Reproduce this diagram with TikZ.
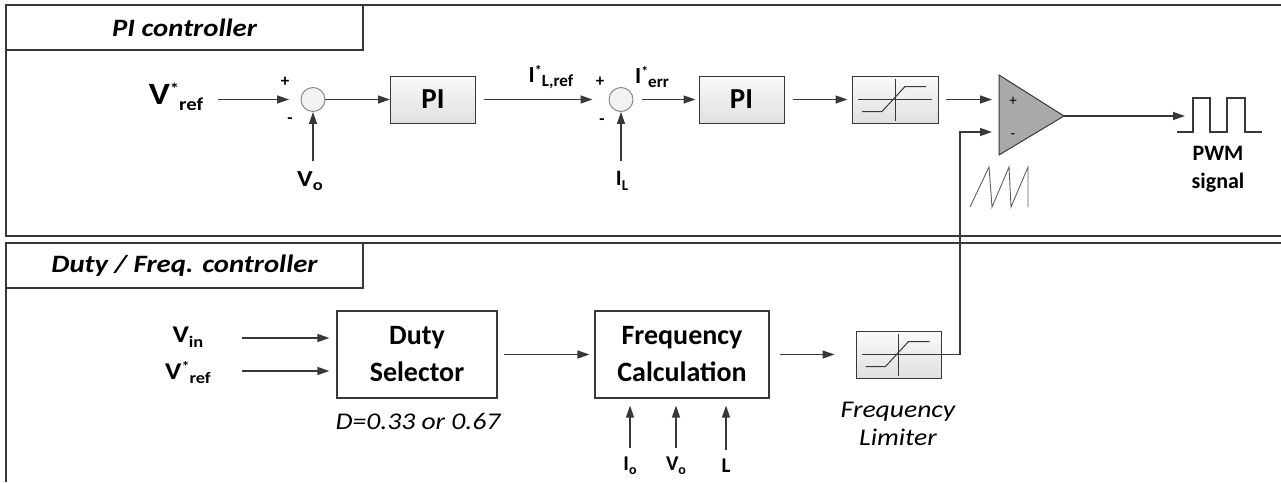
\documentclass[tikz,border=0pt]{standalone}
\usepackage{fontspec}
\setmainfont{Carlito}
\newfontfamily\widefont[FakeStretch=1.15]{Carlito}
\usetikzlibrary{arrows.meta}
\definecolor{wire}{HTML}{383838}
\definecolor{boxtop}{HTML}{FAFAFA}
\definecolor{boxbot}{HTML}{E0E0E0}
\definecolor{comparator}{HTML}{A9A9A9}
\definecolor{junction}{HTML}{F2F2F2}

% star and index for the signal names
\newcommand{\sigstar}[1][14]{\raisebox{0.3em}{\fontsize{#1}{#1}\selectfont *}}
\newcommand{\sigsub}[2][15]{\raisebox{-0.2em}{\fontsize{#1}{#1}\selectfont #2}}

\begin{document}
\begin{tikzpicture}[x=1pt, y=-1pt,
    wire/.style={draw=wire, line width=1.3pt},
    arr/.style={wire, -{Triangle[length=12pt, width=8pt]}},
    block/.style={draw=wire, line width=1pt, top color=boxtop, bottom color=boxbot,
      minimum width=85pt, minimum height=47pt, inner sep=0pt,
      font=\fontsize{29}{29}\selectfont\bfseries},
    plainbox/.style={draw=wire, line width=1.1pt, fill=white, minimum height=87pt,
      inner sep=0pt, align=center, font=\fontsize{28}{37}\selectfont\bfseries},
    sumnode/.style={circle, draw=gray, fill=junction, minimum size=24pt,
      inner sep=0pt, line width=0.9pt},
    titlebox/.style={draw=wire, line width=1.3pt, minimum width=357pt,
      minimum height=45pt, inner sep=0pt,
      font=\widefont\fontsize{25}{25}\selectfont\bfseries\itshape},
    sign/.style={inner sep=0pt, font=\fontsize{17}{17}\selectfont\bfseries}
  ]
  \useasboundingbox (0,0) rectangle (1281,482);

  % Panels
  \draw[wire, line width=1.5pt] (1281,5) -- (6,5) -- (6,236) -- (1281,236);
  \draw[wire, line width=1.5pt] (1281,243) -- (6,243) -- (6,482);
  \node[titlebox] (pititle) at (184.5,27.5) {PI controller};
  \node[titlebox] (dftitle) at (184.5,265.5) {Duty / Freq. controller};

  % PI controller row
  \node[inner sep=0pt, font=\widefont\fontsize{31}{31}\selectfont\bfseries] (vref) at (176,97)
    {V\sigstar[16]\sigsub[18]{ref}};
  \node[sumnode] (sum1) at (313,99.5) {};
  \node[sign] (plus1) at (285,82) {+};
  \node[sign] (minus1) at (290,121) {-};
  \node[inner sep=0pt, font=\widefont\fontsize{23}{23}\selectfont\bfseries] (vo) at (310,181)
    {V\sigsub[16]{o}};
  \node[block] (pi1) at (433,99.5) {PI};
  \node[inner sep=0pt, font=\fontsize{23}{23}\selectfont\bfseries] (ilref) at (551,77)
    {I\sigstar\sigsub[17]{L,ref}};
  \node[sumnode] (sum2) at (621,99.5) {};
  \node[sign] (plus2) at (600,82) {+};
  \node[sign] (minus2) at (602,122) {-};
  \node[inner sep=0pt, font=\fontsize{23}{23}\selectfont\bfseries] (ierr) at (652,77)
    {I\sigstar\sigsub[17]{err}};
  \node[inner sep=0pt, font=\fontsize{22}{22}\selectfont\bfseries] (il) at (622,181)
    {I\sigsub[15]{L}};
  \node[block] (pi2) at (741.5,99.5) {PI};
  \node[block, minimum width=86pt] (sat1) at (895,99.5) {};

  % Comparator
  \coordinate (comp-top) at (999,75);
  \coordinate (comp-bot) at (999,155);
  \coordinate (comp-out) at (1064,116);
  \coordinate (comp-plus) at (999,99.5);
  \coordinate (comp-minus) at (999,132);
  \filldraw[fill=comparator, draw=wire, line width=1pt]
    (comp-top) -- (comp-out) -- (comp-bot) -- cycle;
  \node[sign, font=\fontsize{15}{15}\selectfont] (plus3) at (1013,101) {+};
  \node[sign, font=\fontsize{15}{15}\selectfont] (minus3) at (1013,136) {-};
  \draw[draw=wire!80, line width=0.9pt] (970,207) -- (989,167) -- (992,207)
    -- (1009,167) -- (1011,207) -- (1028,167) -- (1028,207);

  % PWM output
  \coordinate (pwm-in) at (1185,116);
  \draw[wire, line width=1.1pt] (1177,132) -- (1193,132) -- (1193,98) -- (1210,98)
    -- (1210,132) -- (1227,132) -- (1227,98) -- (1245,98) -- (1245,132) -- (1262,132);
  \node[align=center, inner sep=0pt, font=\fontsize{22}{28}\selectfont\bfseries]
    (pwmlbl) at (1218,169) {PWM\\signal};

  % Top connectors
  \path (sum1) ++(-95,0) coordinate (vref-src);
  \draw[arr, shorten >=11.5pt] (vref-src) -- (sum1);
  \draw[arr] (sum1) -- (pi1);
  \draw[arr, shorten <=8pt, shorten >=16pt] (pi1) -- (sum2);
  \draw[arr, shorten <=9pt, shorten >=3pt] (sum2) -- (pi2);
  \draw[arr, shorten <=8pt, shorten >=4pt] (pi2) -- (sat1);
  \draw[arr, shorten <=7pt, shorten >=7pt] (sat1) -- (comp-plus);
  \draw[arr, shorten <=10pt] (sum1 |- vo.north) -- (sum1.south);
  \draw[arr, shorten <=10pt] (sum2 |- il.north) -- (sum2.south);
  \draw[arr] (comp-out) -- (pwm-in);

  % Duty / Freq. controller row
  \node[inner sep=0pt, font=\widefont\fontsize{24}{24}\selectfont\bfseries] (vin) at (188,337)
    {V\sigsub[16]{in}};
  \node[inner sep=0pt, font=\widefont\fontsize{24}{24}\selectfont\bfseries] (vref2) at (188,373)
    {V\sigstar\sigsub[16]{ref}};
  \node[plainbox, minimum width=160pt] (duty) at (417,354.5) {Duty\\Selector};
  \node[inner sep=0pt, font=\widefont\fontsize{24}{24}\selectfont\itshape] (dval)
    at (418,421) {D=0.33 or 0.67};
  \node[plainbox, minimum width=174pt] (fcalc) at (682,354.5) {Frequency\\Calculation};
  \node[inner sep=0pt, font=\fontsize{21}{21}\selectfont\bfseries] (io) at (630,466)
    {I\sigsub[14]{o}};
  \node[inner sep=0pt, font=\fontsize{21}{21}\selectfont\bfseries] (vo2) at (676,466)
    {V\sigsub[14]{o}};
  \node[inner sep=0pt, font=\fontsize{21}{21}\selectfont\bfseries] (lind) at (726,466)
    {L};
  \node[block] (flim) at (898.5,354.5) {};
  \node[align=center, inner sep=0pt, font=\widefont\fontsize{24}{28}\selectfont\itshape]
    (flimlbl) at (898,424) {Frequency\\Limiter};

  % Limiter curves
  \foreach \b in {sat1, flim} {
    \draw[wire, line width=1pt] ([xshift=-37pt]\b.center) -- ([xshift=37pt]\b.center);
    \draw[wire, line width=1pt] ([yshift=21pt]\b.center) -- ([yshift=-21pt]\b.center);
    \draw[wire, line width=1pt] ([xshift=-33pt, yshift=-12pt]\b.center)
      -- ([xshift=-13pt, yshift=-12pt]\b.center)
      -- ([xshift=10pt, yshift=13pt]\b.center) -- ([xshift=31pt, yshift=13pt]\b.center);
  }

  % Bottom connectors
  \path (duty.west) ++(-94,-16.5) coordinate (vin-src);
  \path (duty.west) ++(-94,16.5) coordinate (vref2-src);
  \draw[arr, shorten >=7pt] (vin-src) -- (vin-src -| duty.west);
  \draw[arr, shorten >=7pt] (vref2-src) -- (vref2-src -| duty.west);
  \draw[arr, shorten <=6pt, shorten >=5pt] (duty) -- (fcalc);
  \foreach \n in {io, vo2, lind}
    \draw[arr, shorten <=9pt, shorten >=7pt] (\n.north) -- (\n.north |- fcalc.south);
  \draw[arr, shorten <=10pt, shorten >=21pt] (fcalc) -- (flim);
  \draw[arr, shorten >=7pt] (flim.center) -- ++(61.5,0) |- (comp-minus);
\end{tikzpicture}
\end{document}
